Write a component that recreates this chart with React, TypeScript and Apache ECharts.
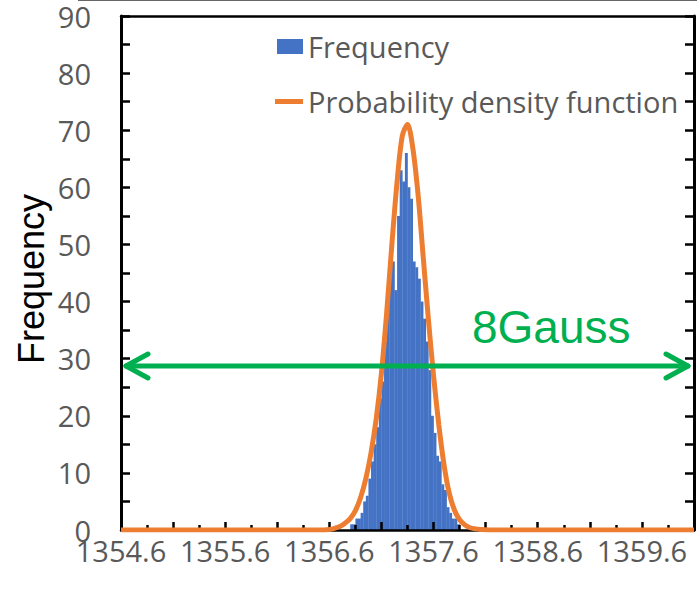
import React, { useEffect, useRef } from "react";
import * as echarts from "echarts";

// axis ranges and tick labels
const X_ORIGIN = 1354.6;
const X_END = 1360.1;
const xTickLabels = ["1354.6", "1355.6", "1356.6", "1357.6", "1358.6", "1359.6"];
const Y_MIN = 0;
const Y_MAX = 90;
const Y_STEP = 10;

// histogram (Frequency)
const BIN_START = 1356.8;
const BIN_WIDTH = 0.025;
const frequency = [
  1, 1, 2, 2, 3, 5, 6, 9, 12, 15, 18, 23, 26, 33, 40, 49, 47, 42, 55, 63, 61,
  66, 60, 58, 47, 46, 44, 40, 37, 33, 28, 20, 17, 13, 12, 8, 7, 4, 3, 2, 2, 1,
];

// probability density function
const pdfX = [
  1354.6, 1355.5, 1356.3, 1356.5, 1356.6, 1356.65, 1356.7, 1356.75, 1356.8,
  1356.85, 1356.9, 1356.95, 1357.0, 1357.05, 1357.1, 1357.15, 1357.2, 1357.25,
  1357.3, 1357.35, 1357.4, 1357.45, 1357.5, 1357.55, 1357.6, 1357.65, 1357.7,
  1357.75, 1357.8, 1357.85, 1357.9, 1357.95, 1358.0, 1358.05, 1358.15, 1358.35,
  1359.2, 1360.1,
];
const pdfY = [
  0, 0, 0, 0, 0.1, 0.3, 0.6, 1.2, 2.0, 3.4, 5.7, 9, 13.5, 19.5, 27.5, 38, 50,
  61, 69, 71, 67, 59, 48, 37, 27, 18.5, 11.5, 6.5, 3.5, 1.8, 0.9, 0.4, 0.2, 0.1,
  0, 0, 0, 0,
];

const SERIES_FREQ = "Frequency";
const SERIES_PDF = "Probability density function";
const ANNOTATION = "8Gauss";
const Y_NAME = "Frequency";

const BLUE = "#4472C4";
const ORANGE = "#ED7D31";
const GREEN = "#00B050";
const GREY_TEXT = "#595959";

export default function App() {
  const ref = useRef<HTMLDivElement>(null);

  useEffect(() => {
    if (!ref.current) return;
    const chart = echarts.init(ref.current, undefined, { renderer: "svg" });

    const histData = frequency.map((f, i) => {
      const s = BIN_START + i * BIN_WIDTH - X_ORIGIN;
      return [s, s + BIN_WIDTH, f];
    });
    const pdfData = pdfX.map((x, i) => [x - X_ORIGIN, pdfY[i]]);

    const tickFont = { fontFamily: "Open Sans", fontSize: 29, color: GREY_TEXT };
    const black = { color: "#000", width: 2.5 };

    chart.setOption({
      animation: false,
      grid: { left: 121, right: 3, top: 16, bottom: 60, outerBoundsMode: "none" },
      legend: [
        {
          data: [{ name: SERIES_FREQ, icon: "rect" }],
          left: 277,
          top: 32,
          padding: 0,
          itemWidth: 26,
          itemHeight: 15,
          selectedMode: false,
          textStyle: { fontFamily: "Open Sans", fontSize: 29, color: GREY_TEXT },
        },
        {
          data: [{ name: SERIES_PDF, icon: "rect" }],
          left: 275,
          top: 87,
          padding: 0,
          itemWidth: 28,
          itemHeight: 5,
          selectedMode: false,
          textStyle: { fontFamily: "Open Sans", fontSize: 29, color: GREY_TEXT },
        },
      ],
      xAxis: [
        {
          type: "value",
          position: "bottom",
          min: 0,
          max: X_END - X_ORIGIN,
          interval: 0.5,
          z: 3,
          axisLine: { show: true, onZero: false, lineStyle: black },
          axisTick: { show: true, inside: true, length: 8, lineStyle: black },
          minorTick: { show: true, splitNumber: 2, length: 5, lineStyle: black },
          splitLine: { show: false },
          axisLabel: {
            ...tickFont,
            margin: 6,
            showMaxLabel: false,
            formatter: (v: number) => {
              const k = Math.round(v);
              if (Math.abs(v - k) < 1e-6 && k >= 0 && k < xTickLabels.length) return xTickLabels[k];
              return "";
            },
          },
        },
        {
          type: "value",
          position: "top",
          min: 0,
          max: X_END - X_ORIGIN,
          axisLine: { show: true, onZero: false, lineStyle: black },
          axisTick: { show: false },
          axisLabel: { show: false },
          splitLine: { show: false },
        },
      ],
      yAxis: [
        {
          type: "value",
          position: "left",
          min: Y_MIN,
          max: Y_MAX,
          interval: Y_STEP,
          axisLine: { show: true, onZero: false, lineStyle: { color: "#000", width: 3 } },
          axisTick: { show: true, inside: true, length: 9, lineStyle: black },
          minorTick: { show: true, splitNumber: 2, length: 9, lineStyle: black },
          splitLine: { show: false },
          axisLabel: { ...tickFont, margin: 30 },
        },
        {
          type: "value",
          position: "right",
          min: Y_MIN,
          max: Y_MAX,
          interval: Y_STEP,
          axisLine: { show: true, onZero: false, lineStyle: { color: "#000", width: 3 } },
          axisTick: { show: true, inside: true, length: 9, lineStyle: black },
          minorTick: { show: true, splitNumber: 2, length: 9, lineStyle: black },
          splitLine: { show: false },
          axisLabel: { show: false },
        },
      ],
      series: [
        {
          name: SERIES_FREQ,
          type: "custom",
          xAxisIndex: 0,
          yAxisIndex: 0,
          z: 2,
          itemStyle: { color: BLUE },
          encode: { x: [0, 1], y: 2 },
          data: histData,
          renderItem: (params: any, api: any) => {
            const p0 = api.coord([api.value(0), api.value(2)]);
            const p1 = api.coord([api.value(1), 0]);
            return {
              type: "rect",
              shape: { x: p0[0], y: p0[1], width: p1[0] - p0[0] + 0.3, height: p1[1] - p0[1] },
              style: { fill: BLUE },
            };
          },
        },
        {
          name: SERIES_PDF,
          type: "line",
          xAxisIndex: 0,
          yAxisIndex: 0,
          z: 4,
          color: ORANGE,
          smooth: 0.3,
          symbol: "none",
          lineStyle: { color: ORANGE, width: 5 },
          data: pdfData,
        },
      ],
      graphic: [
        {
          type: "line",
          shape: { x1: 78, y1: 0.5, x2: 697, y2: 0.5 },
          style: { stroke: "#666", lineWidth: 1 },
        },
        {
          type: "text",
          x: 31,
          y: 279,
          rotation: Math.PI / 2,
          style: {
            text: Y_NAME,
            fontFamily: "Liberation Sans",
            fontSize: 36,
            fill: "#000",
            textAlign: "center",
            textVerticalAlign: "middle",
          },
        },
        {
          type: "line",
          z: 10,
          shape: { x1: 126, y1: 366, x2: 688, y2: 366 },
          style: { stroke: GREEN, lineWidth: 5, lineCap: "round" },
        },
        {
          type: "polyline",
          z: 10,
          shape: { points: [[148, 354], [126, 366], [148, 378]] },
          style: { stroke: GREEN, lineWidth: 5, fill: "none", lineCap: "round", lineJoin: "round" },
        },
        {
          type: "polyline",
          z: 10,
          shape: { points: [[666, 354], [688, 366], [666, 378]] },
          style: { stroke: GREEN, lineWidth: 5, fill: "none", lineCap: "round", lineJoin: "round" },
        },
        {
          type: "text",
          z: 10,
          x: 472,
          y: 327,
          style: {
            text: ANNOTATION,
            fontFamily: "Liberation Sans",
            fontSize: 46,
            fill: GREEN,
            textAlign: "left",
            textVerticalAlign: "middle",
          },
        },
      ],
    });

    return () => chart.dispose();
  }, []);

  return (
    <div
      ref={ref}
      style={{ position: "fixed", left: 0, top: 0, width: 697, height: 590, background: "#fff" }}
    />
  );
}
